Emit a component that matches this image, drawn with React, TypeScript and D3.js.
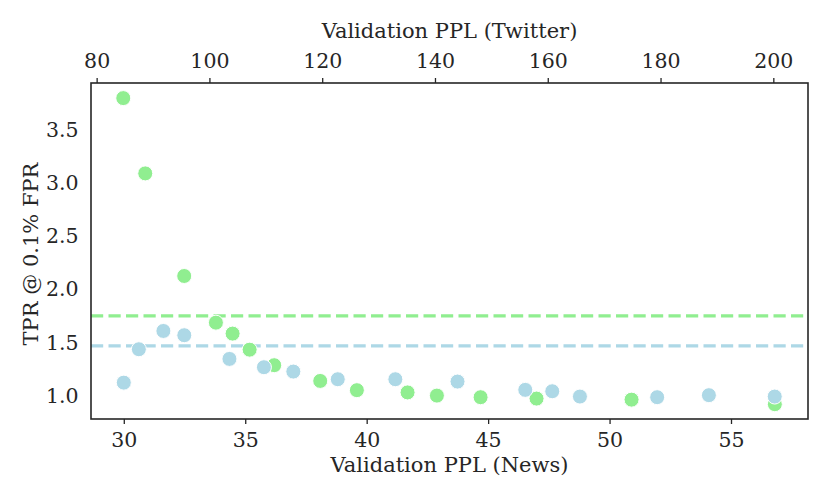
import { useEffect, useRef } from "react";
import * as d3 from "d3";

// News validation PPL (bottom axis) vs TPR
const newsPpl = [30.0, 30.62, 31.63, 32.49, 34.35, 35.77, 36.98, 38.81, 41.18, 43.74, 46.53, 47.64, 48.78, 51.96, 54.09, 56.8];
const newsTpr = [1.122, 1.436, 1.608, 1.568, 1.345, 1.267, 1.226, 1.154, 1.154, 1.132, 1.054, 1.041, 0.991, 0.985, 1.004, 0.991];

// Twitter validation PPL (top axis) vs TPR
const twitterPpl = [84.72, 88.62, 95.53, 101.15, 104.11, 107.13, 111.49, 119.65, 126.15, 135.14, 140.34, 148.09, 158.01, 174.86, 200.27];
const twitterTpr = [3.798, 3.09, 2.125, 1.686, 1.583, 1.432, 1.286, 1.138, 1.051, 1.03, 1.0, 0.985, 0.972, 0.962, 0.919];

// baselines
const twitterBaseline = 1.749;
const newsBaseline = 1.467;

const newsTicks = [30, 35, 40, 45, 50, 55];
const twitterTicks = [80, 100, 120, 140, 160, 180, 200];
const tprTicks = [1.0, 1.5, 2.0, 2.5, 3.0, 3.5];

const GREEN = "#90ee90";
const BLUE = "#add8e6";
const INK = "#262626";
const FONT = "'DejaVu Serif', serif";
const TICK_SIZE = 20.5;
const LABEL_SIZE = 21;

export default function App() {
  const svgRef = useRef<SVGSVGElement>(null);

  useEffect(() => {
    if (!svgRef.current) return;
    const svg = d3.select(svgRef.current);
    svg.selectAll("*").remove();

    const margin = { top: 83, right: 22, bottom: 79, left: 91 };
    const width = 830 - margin.left - margin.right;
    const height = 498 - margin.top - margin.bottom;

    const g = svg.append("g").attr("transform", `translate(${margin.left},${margin.top})`);

    const xNews = d3.scaleLinear().domain([28.65, 58.17]).range([0, width]);
    const xTwitter = d3.scaleLinear().domain([79.0, 206.15]).range([0, width]);
    const y = d3.scaleLinear().domain([0.78, 3.94]).range([height, 0]);

    const styleAxis = (sel: d3.Selection<SVGGElement, unknown, null, undefined>) => {
      sel.select(".domain").remove();
      sel.selectAll("line").attr("stroke", INK).attr("stroke-width", 1.3);
      sel.selectAll("text").attr("fill", INK).attr("font-family", FONT).attr("font-size", TICK_SIZE);
    };

    g.append("g")
      .attr("transform", `translate(0,${height})`)
      .call(d3.axisBottom(xNews).tickValues(newsTicks).tickSize(5).tickPadding(8).tickFormat(d3.format("d")))
      .call(styleAxis);

    g.append("g")
      .call(d3.axisTop(xTwitter).tickValues(twitterTicks).tickSize(5).tickPadding(9.7).tickFormat(d3.format("d")))
      .call(styleAxis);

    g.append("g")
      .call(d3.axisLeft(y).tickValues(tprTicks).tickSize(0).tickPadding(12.5).tickFormat(d3.format(".1f")))
      .call(styleAxis);

    // baselines
    [
      { v: twitterBaseline, c: GREEN },
      { v: newsBaseline, c: BLUE },
    ].forEach(b => {
      g.append("line")
        .attr("x1", 0).attr("x2", width)
        .attr("y1", y(b.v)).attr("y2", y(b.v))
        .attr("stroke", b.c)
        .attr("stroke-width", 3.3)
        .attr("stroke-dasharray", "12.2,5.3");
    });

    // Twitter points
    g.selectAll(".tw-dot")
      .data(twitterPpl.map((p, i) => ({ p, t: twitterTpr[i] })))
      .enter()
      .append("circle")
      .attr("class", "tw-dot")
      .attr("cx", d => xTwitter(d.p))
      .attr("cy", d => y(d.t))
      .attr("r", 7.5)
      .attr("fill", GREEN)
      .attr("stroke", "#fff")
      .attr("stroke-width", 1);

    // News points
    g.selectAll(".news-dot")
      .data(newsPpl.map((p, i) => ({ p, t: newsTpr[i] })))
      .enter()
      .append("circle")
      .attr("class", "news-dot")
      .attr("cx", d => xNews(d.p))
      .attr("cy", d => y(d.t))
      .attr("r", 7.5)
      .attr("fill", BLUE)
      .attr("stroke", "#fff")
      .attr("stroke-width", 1);

    // frame
    g.append("rect")
      .attr("width", width).attr("height", height)
      .attr("fill", "none")
      .attr("stroke", INK)
      .attr("stroke-width", 1.6);

    // axis labels
    g.append("text")
      .attr("x", width / 2).attr("y", height + 52.7)
      .attr("text-anchor", "middle")
      .attr("font-family", FONT).attr("font-size", LABEL_SIZE).attr("fill", INK)
      .text("Validation PPL (News)");

    g.append("text")
      .attr("x", width / 2).attr("y", -45.3)
      .attr("text-anchor", "middle")
      .attr("font-family", FONT).attr("font-size", LABEL_SIZE).attr("fill", INK)
      .text("Validation PPL (Twitter)");

    g.append("text")
      .attr("transform", `translate(${38.3 - margin.left},${height / 2 + 3}) rotate(-90)`)
      .attr("text-anchor", "middle")
      .attr("font-family", FONT).attr("font-size", LABEL_SIZE).attr("fill", INK)
      .text("TPR @ 0.1% FPR");
  }, []);

  return (
    <svg
      ref={svgRef}
      width={830}
      height={498}
      style={{ position: "absolute", left: 0, top: 0, background: "#fff" }}
    />
  );
}
